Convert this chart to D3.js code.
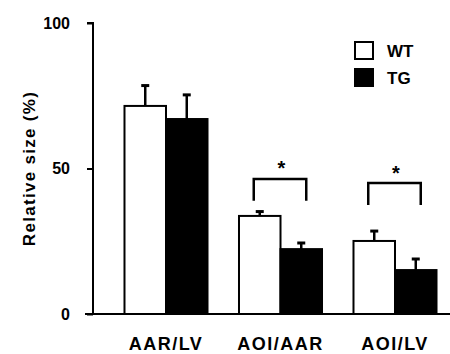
<!DOCTYPE html>
<html>
<head>
<meta charset="utf-8">
<script src="https://cdn.jsdelivr.net/npm/d3@7"></script>
<style>
  body { margin: 0; background: #fff; }
  text { font-family: "Liberation Sans", Arial, sans-serif; font-weight: bold; fill: #000; }
</style>
</head>
<body>
<script>
// values
var categories = ["AAR/LV", "AOI/AAR", "AOI/LV"];
var groups = ["WT", "TG"];
var wtMeans = [71.5, 33.7, 25.1];
var wtErr = [7, 1.5, 3.4];
var tgMeans = [67.0, 22.3, 15.1];
var tgErr = [8.3, 2.1, 3.8];
var sigBracket = [null, 46.4, 45.0]; // height of significance bracket
var yTicks = [0, 50, 100];

var width = 450, height = 354;
var y0 = 314, yTop = 23, axisX = 93;

var svg = d3.select("body").append("svg")
  .attr("width", width)
  .attr("height", height);

var y = d3.scaleLinear().domain([0, 100]).range([y0, yTop]);

var x = d3.scaleBand()
  .domain(categories)
  .range([108.75, 452.25])
  .paddingInner(0.275)
  .paddingOuter(0.1375);

var xSub = d3.scaleBand().domain(groups).range([0, x.bandwidth()]);

var data = categories.map(function(c, i) {
  return {
    cat: c,
    bars: [
      {g: "WT", v: wtMeans[i], e: wtErr[i]},
      {g: "TG", v: tgMeans[i], e: tgErr[i]}
    ],
    sig: sigBracket[i]
  };
});

// error bars (drawn first, only upward)
var grp = svg.selectAll("g.cat")
  .data(data)
  .enter().append("g")
  .attr("class", "cat")
  .attr("transform", d => `translate(${x(d.cat)},0)`);

grp.selectAll("g.err")
  .data(d => d.bars)
  .enter().append("g")
  .attr("class", "err")
  .each(function(d) {
    var cx = xSub(d.g) + xSub.bandwidth() / 2;
    var g = d3.select(this);
    g.append("line")
      .attr("x1", cx).attr("x2", cx)
      .attr("y1", y(d.v)).attr("y2", y(d.v + d.e))
      .attr("stroke", "#000").attr("stroke-width", 2.5);
    g.append("line")
      .attr("x1", cx - 4).attr("x2", cx + 4)
      .attr("y1", y(d.v + d.e)).attr("y2", y(d.v + d.e))
      .attr("stroke", "#000").attr("stroke-width", 3);
  });

grp.selectAll("rect")
  .data(d => d.bars)
  .enter().append("rect")
  .attr("x", d => xSub(d.g))
  .attr("y", d => y(d.v))
  .attr("width", xSub.bandwidth())
  .attr("height", d => y(0) - y(d.v))
  .attr("fill", d => d.g == "TG" ? "#000" : "#fff")
  .attr("stroke", "#000")
  .attr("stroke-width", 2);

// significance brackets
var sigG = grp.filter(d => d.sig != null);
sigG.append("path")
  .attr("d", function(d) {
    var xl = xSub("WT") + xSub.bandwidth() / 2 - 6;
    var xr = xSub("TG") + xSub.bandwidth() / 2 + 5;
    return `M${xl},${y(d.sig - 7.5)}V${y(d.sig)}H${xr}V${y(d.sig - 7.5)}`;
  })
  .attr("fill", "none")
  .attr("stroke", "#000")
  .attr("stroke-width", 2.5);
sigG.append("text")
  .attr("x", x.bandwidth() / 2 + 1)
  .attr("y", d => y(d.sig + 1.2))
  .attr("text-anchor", "middle")
  .style("font-size", "20px")
  .text("*");

// y axis
var yAxis = svg.append("g")
  .attr("transform", `translate(${axisX},0)`)
  .call(d3.axisLeft(y).tickValues(yTicks).tickSize(6).tickPadding(17));
yAxis.select(".domain").attr("stroke-width", 2).attr("d", `M-6,${yTop}H0V${y0}`);
yAxis.selectAll(".tick line").attr("stroke-width", 2);
yAxis.selectAll(".tick text").style("font-size", "16px");

// x axis (labels only) + baseline
var xAxis = svg.append("g")
  .attr("transform", `translate(0,${y0})`)
  .call(d3.axisBottom(x).tickSize(0).tickPadding(23));
xAxis.select(".domain").remove();
xAxis.selectAll(".tick text")
  .style("font-size", "18px")
  .style("letter-spacing", "1.5px");
svg.append("line")
  .attr("x1", 85).attr("x2", width)
  .attr("y1", y0).attr("y2", y0)
  .attr("stroke", "#000").attr("stroke-width", 2);

// y label
svg.append("text")
  .attr("transform", `translate(35,${(y0 + yTop) / 2}) rotate(-90)`)
  .attr("text-anchor", "middle")
  .style("font-size", "17px")
  .style("letter-spacing", "1.3px")
  .text("Relative size (%)");

// legend
var legend = svg.selectAll("g.legend")
  .data(groups)
  .enter().append("g")
  .attr("class", "legend")
  .attr("transform", (d, i) => `translate(355,${42 + i * 27})`);
legend.append("rect")
  .attr("width", 18).attr("height", 17)
  .attr("fill", d => d == "TG" ? "#000" : "#fff")
  .attr("stroke", "#000").attr("stroke-width", 2);
legend.append("text")
  .attr("x", 32).attr("y", 15)
  .style("font-size", "17px")
  .text(d => d);
</script>
</body>
</html>
